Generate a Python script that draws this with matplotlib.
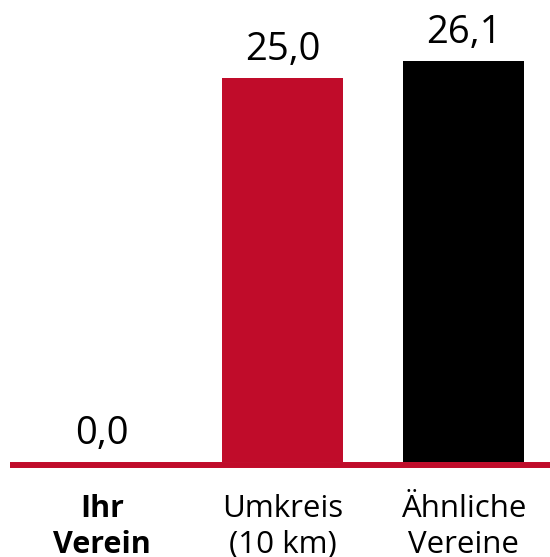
import matplotlib.pyplot as plt
import numpy as np

categories = ["Ihr\nVerein", "Umkreis\n(10 km)", "Ähnliche\nVereine"]
values = [0.0, 25.0, 26.1]
colors = ["#C00C2A", "#C00C2A", "#000000"]
bold = [True, False, False]

plt.rcParams['font.family'] = ['Open Sans', 'DejaVu Sans']

fig = plt.figure(figsize=(5.5, 5.57), dpi=100)
# axes spans from x=10px to right edge, baseline near y=462px
W, H = 550, 557
ax = fig.add_axes([10 / W, (H - 468) / H, 540 / W, 468 / H])

x = np.arange(len(values))
px_per_unit = 15.36
ax.bar(x, values, width=0.668, color=colors, zorder=3)
ax.set_xlim(-0.508, 2.478)
ax.set_ylim(-6 / px_per_unit, 462 / px_per_unit)

# red baseline
ax.axhline(-3 / px_per_unit, color="#C00C2A", linewidth=4.3, zorder=2)

# value labels
for xi, v in zip(x, values):
    ax.annotate(f"{v:.1f}".replace(".", ","), (xi, v), xytext=(0, 13),
                textcoords="offset points", ha="center", va="baseline",
                fontsize=27.5)

# category labels
for xi, lab, b in zip(x, categories, bold):
    ax.annotate(lab, (xi, 0), xytext=(0, -23), textcoords="offset points",
                ha="center", va="top", fontsize=22.5 if not b else 22,
                linespacing=1.26,
                fontweight="bold" if b else "normal", annotation_clip=False)

ax.axis("off")
fig.savefig("out.png", dpi=100)
